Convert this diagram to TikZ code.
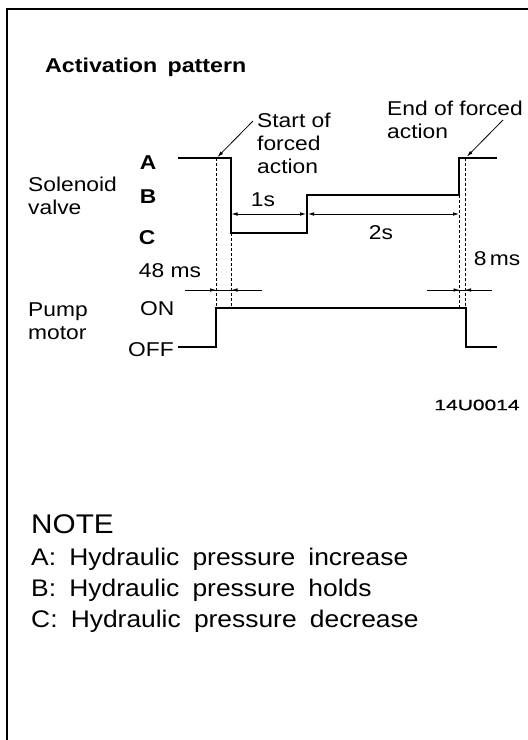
\documentclass[tikz,border=0pt]{standalone}
\usepackage{fontspec}
\setmainfont{Liberation Sans}
\newfontfamily\labfont[FakeStretch=1.14]{Liberation Sans}
\newfontfamily\titlefont[FakeStretch=1.16,WordSpace=1.6]{Liberation Sans}
\newfontfamily\notefont[FakeStretch=1.1,WordSpace=1.8]{Liberation Sans}
\newfontfamily\codefont[FakeStretch=1.4,FakeBold=0.6]{Liberation Sans}
\usetikzlibrary{arrows.meta}
\begin{document}
\begin{tikzpicture}[x=1pt,y=-1pt,
  frameline/.style={line width=2pt},
  wave/.style={line width=2pt},
  guide/.style={line width=0.6pt,dash pattern=on 3pt off 2pt},
  dim/.style={line width=0.8pt},
  tipend/.style={-{Latex[length=6pt,width=3.6pt]}},
  tipboth/.style={{Latex[length=6pt,width=3.6pt]}-{Latex[length=6pt,width=3.6pt]}},
  lab/.style={inner sep=0pt,font=\labfont\fontsize{20}{23}\selectfont},
  blab/.style={inner sep=0pt,font=\labfont\bfseries\fontsize{20}{23}\selectfont},
  note/.style={inner sep=0pt,anchor=base west,font=\notefont\fontsize{24}{30}\selectfont}]
\useasboundingbox (0,0) rectangle (528,740);
\fill[white] (0,0) rectangle (528,740);
% frame (open at right and bottom)
\draw[frameline] (7.3,740) -- (7.3,9.3) -- (528,9.3);

% title
\node[inner sep=0pt,anchor=base west,font=\titlefont\bfseries\fontsize{20}{24}\selectfont] (title) at (45,72) {Activation pattern};

% labels
\node[lab,anchor=north west,align=left] (startlab) at (257,112.5) {Start of\\forced\\action};
\node[lab,anchor=north west,align=left] (endlab) at (387,100.5) {End of forced\\action};
\node[lab,anchor=north west,align=left] (solenoid) at (28,177) {Solenoid\\valve};
\node[lab,anchor=north west,align=left] (pump) at (28,302.5) {Pump\\motor};
\node[blab] (labA) at (148,163) {A};
\node[blab] (labB) at (148,197) {B};
\node[blab] (labC) at (147,238) {C};
\node[lab,anchor=base west] (on) at (140,315) {ON};
\node[lab,anchor=base west] (off) at (128,356) {OFF};
\node[lab] (t1) at (263,200) {1s};
\node[lab] (t2) at (381,233) {2s};
\node[lab] (t48) at (170,271) {48 ms};
\node[lab] (t8) at (497,259) {8\,ms};
\node[inner sep=0pt,font=\codefont\fontsize{15}{18}\selectfont] (code) at (477,405) {14U0014};

% waveform points
\coordinate (a0) at (178,158);
\coordinate (a1) at (231,158);
\coordinate (c0) at (231,233);
\coordinate (c1) at (307,233);
\coordinate (b0) at (307,195);
\coordinate (b1) at (459,195);
\coordinate (a2) at (459,158);
\coordinate (a3) at (497,158);
\draw[wave] (a0) -- (a1) -- (c0) -- (c1) -- (b0) -- (b1) -- (a2) -- (a3);

\coordinate (p0) at (178,347);
\coordinate (p1) at (216,347);
\coordinate (p2) at (216,308);
\coordinate (p3) at (466,308);
\coordinate (p4) at (466,347);
\coordinate (p5) at (497,347);
\draw[wave] (p0) -- (p1) -- (p2) -- (p3) -- (p4) -- (p5);

% guide lines
\draw[guide] (216,158) -- (p2);
\draw[guide] (231.5,233) -- (231.5,308);
\draw[guide] (459.5,195) -- (459.5,308);
\draw[guide] (465,158) -- (465,308);

% dimensions 1s / 2s
\coordinate (d1a) at (231.5,214);
\coordinate (d1b) at (306,214);
\coordinate (d2a) at (308,214);
\coordinate (d2b) at (459,214);
\draw[dim,tipboth] (d1a) -- (d1b);
\draw[dim,tipboth] (d2a) -- (d2b);

% 48 ms
\coordinate (m48l) at (185,290);
\coordinate (m48a) at (216,290);
\coordinate (m48b) at (231.5,290);
\coordinate (m48r) at (262,290);
\draw[dim] (m48l) -- (m48r);
\draw[dim,tipend] (m48l) -- (m48a);
\draw[dim,tipend] (m48r) -- (m48b);

% 8 ms
\coordinate (m8l) at (427,290);
\coordinate (m8a) at (459.5,290);
\coordinate (m8b) at (465,290);
\coordinate (m8r) at (492,290);
\draw[dim] (m8l) -- (m8r);
\draw[dim,tipend] (m8l) -- (m8a);
\draw[dim,tipend] (m8r) -- (m8b);

% leaders
\coordinate (sfrom) at (253,121);
\coordinate (sto) at (217.5,157);
\coordinate (efrom) at (503,120);
\coordinate (eto) at (467,156.5);
\draw[dim,tipend] (sfrom) -- (sto);
\draw[dim,tipend] (efrom) -- (eto);

% note
\node[note,font=\notefont\fontsize{27}{30}\selectfont] (notehead) at (31,533) {NOTE};
\node[note] (noteA) at (31,565) {A: Hydraulic pressure increase};
\node[note] (noteB) at (31,596) {B: Hydraulic pressure holds};
\node[note] (noteC) at (31,627) {C: Hydraulic pressure decrease};
\end{tikzpicture}
\end{document}
